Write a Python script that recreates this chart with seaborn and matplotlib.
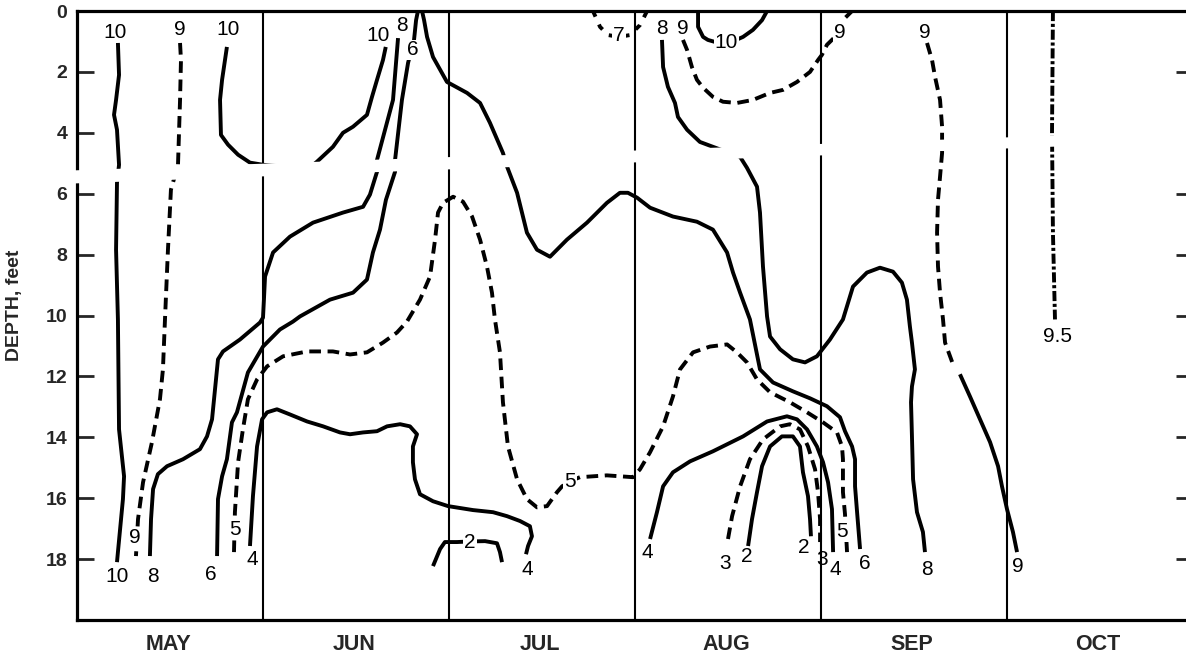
import matplotlib
matplotlib.use("Agg")
import matplotlib.pyplot as plt
import seaborn as sns
import pandas as pd

# Horizontal axis: months after 1 May (0 = May 1, 1 = Jun 1, ...); vertical: depth in feet.
months = ["MAY", "JUN", "JUL", "AUG", "SEP", "OCT"]
depth_ticks = [0, 2, 4, 6, 8, 10, 12, 14, 16, 18]

# ---- isotherm traces (temperature, deg C) ----
t10_may_x = [0.220, 0.226, 0.210, 0.199, 0.215, 0.226, 0.215, 0.210, 0.220, 0.226, 0.253, 0.247, 0.220, 0.215]
t10_may_y = [1.05, 2.10, 2.92, 3.41, 3.90, 5.05, 5.64, 7.84, 10.13, 13.74, 15.28, 16.03, 17.77, 18.10]

t9_may_x = [0.554, 0.559, 0.554, 0.543, 0.505, 0.489, 0.473, 0.462, 0.446, 0.403, 0.355, 0.328, 0.317]
t9_may_y = [1.05, 1.61, 2.92, 5.05, 5.87, 7.84, 10.13, 11.77, 12.75, 14.16, 15.48, 16.69, 17.90]

t10_jun_x = [0.806, 0.780, 0.769, 0.774, 0.812, 0.866, 0.930, 1.000, 1.091, 1.150, 1.240, 1.290,
             1.376, 1.430, 1.484, 1.559, 1.586, 1.613, 1.645, 1.660]
t10_jun_y = [1.18, 2.26, 2.92, 4.07, 4.39, 4.72, 4.98, 5.05, 5.10, 5.25, 5.20, 4.95,
             4.46, 4.00, 3.80, 3.41, 2.82, 2.26, 1.61, 1.18]

t8_jun_x = [0.392, 0.398, 0.409, 0.435, 0.484, 0.570, 0.661, 0.699, 0.726, 0.758, 0.785, 0.876,
            0.984, 1.000, 1.005, 1.011, 1.054, 1.145, 1.269, 1.430, 1.538, 1.575, 1.613, 1.613,
            1.699, 1.726]
t8_jun_y = [17.90, 16.69, 15.70, 15.21, 14.95, 14.72, 14.39, 13.97, 13.41, 11.44, 11.18, 10.79,
            10.23, 10.07, 9.48, 8.72, 7.93, 7.41, 6.95, 6.62, 6.43, 6.03, 5.28, 4.89,
            2.92, 0.89]

t6_x = [0.753, 0.758, 0.780, 0.806, 0.833, 0.860, 0.919, 1.000, 1.091, 1.161, 1.199, 1.360,
        1.484, 1.559, 1.591, 1.629, 1.661, 1.710, 1.710, 1.747, 1.780, 1.812, 1.823, 1.833,
        1.855, 1.866, 1.882, 1.914, 1.989, 2.097, 2.167, 2.220, 2.290, 2.312, 2.366, 2.419,
        2.473, 2.543, 2.634, 2.742, 2.849, 2.919, 2.962, 3.011, 3.081, 3.204, 3.333, 3.419,
        3.495, 3.527, 3.565, 3.618, 3.645, 3.672, 3.742, 3.849, 3.941, 4.032, 4.102, 4.129,
        4.167, 4.183, 4.183, 4.194, 4.210]
t6_y = [17.90, 16.03, 15.28, 14.72, 13.51, 13.18, 11.87, 11.02, 10.46, 10.20, 10.03, 9.48,
        9.25, 8.82, 7.93, 7.18, 6.20, 5.28, 4.89, 2.92, 1.70, 0.95, 0.30, 0.00,
        0.00, 0.30, 0.85, 1.51, 2.33, 2.69, 3.02, 3.67, 4.66, 5.11, 5.97, 7.28,
        7.84, 8.07, 7.51, 6.95, 6.30, 5.97, 5.97, 6.13, 6.46, 6.75, 6.92, 7.18,
        7.93, 8.59, 9.25, 10.13, 10.95, 11.77, 12.20, 12.49, 12.72, 12.98, 13.34, 13.80,
        14.30, 14.72, 15.61, 16.46, 17.67]

t5_x = [0.844, 0.849, 0.866, 0.892, 0.919, 0.968, 1.022, 1.108, 1.237, 1.376, 1.468, 1.559,
        1.645, 1.720, 1.774, 1.844, 1.898, 1.925, 1.941, 1.968, 2.022, 2.075, 2.124, 2.167,
        2.204, 2.231, 2.247, 2.274, 2.290, 2.317, 2.366, 2.419, 2.473, 2.527, 2.581, 2.608,
        2.651, 2.704, 2.849, 2.989, 3.027, 3.081, 3.151, 3.204, 3.242, 3.312, 3.403, 3.495,
        3.548, 3.602, 3.656, 3.726, 3.833, 3.925, 4.011, 4.086, 4.113, 4.118, 4.118, 4.129,
        4.140]
t5_y = [17.77, 16.46, 14.82, 13.74, 12.75, 12.10, 11.67, 11.34, 11.18, 11.18, 11.28, 11.21,
        10.89, 10.56, 10.20, 9.48, 8.72, 7.51, 6.62, 6.30, 6.10, 6.26, 6.75, 7.51,
        8.39, 9.25, 10.13, 11.21, 12.85, 14.30, 15.38, 16.03, 16.30, 16.26, 15.80, 15.61,
        15.44, 15.31, 15.25, 15.31, 15.05, 14.49, 13.64, 12.66, 11.77, 11.21, 11.02, 10.95,
        11.21, 11.54, 12.10, 12.52, 12.85, 13.18, 13.51, 13.84, 14.30, 14.72, 15.80, 16.52,
        17.77]

t4_jun_x = [0.930, 0.946, 0.968, 0.995, 1.022, 1.075, 1.145, 1.237, 1.323, 1.414, 1.468, 1.538,
            1.613, 1.667, 1.737, 1.790, 1.828, 1.806, 1.806, 1.817, 1.844, 1.914, 1.995, 2.129,
            2.237, 2.312, 2.382, 2.435, 2.446, 2.425, 2.414]
t4_jun_y = [17.57, 15.93, 14.30, 13.41, 13.18, 13.08, 13.25, 13.48, 13.64, 13.84, 13.90, 13.84,
            13.80, 13.64, 13.57, 13.64, 13.90, 14.30, 14.82, 15.38, 15.87, 16.10, 16.26, 16.39,
            16.46, 16.59, 16.75, 16.92, 17.25, 17.57, 17.84]

t2_jul_x = [1.914, 1.952, 1.978, 2.043, 2.113, 2.194, 2.258, 2.274, 2.285]
t2_jul_y = [18.23, 17.67, 17.44, 17.44, 17.42, 17.41, 17.48, 17.77, 18.10]

t4_aug_x = [3.081, 3.118, 3.151, 3.204, 3.296, 3.419, 3.581, 3.710, 3.817, 3.871, 3.925, 3.978,
            4.011, 4.038, 4.059, 4.065]
t4_aug_y = [17.34, 16.46, 15.61, 15.15, 14.79, 14.46, 13.97, 13.48, 13.31, 13.41, 13.74, 14.30,
            14.82, 15.48, 16.36, 17.77]

t3_aug_x = [3.500, 3.522, 3.565, 3.618, 3.688, 3.780, 3.833, 3.887, 3.930, 3.968, 3.984, 3.995, 3.995]
t3_aug_y = [17.34, 16.59, 15.61, 14.72, 14.07, 13.64, 13.57, 13.74, 14.30, 15.05, 15.80, 16.69, 17.44]

t2_aug_x = [3.608, 3.629, 3.656, 3.683, 3.726, 3.790, 3.849, 3.887, 3.903, 3.930, 3.941, 3.946]
t2_aug_y = [17.57, 16.69, 15.80, 14.95, 14.30, 13.97, 13.97, 14.30, 15.15, 15.93, 16.69, 17.25]

t7_aug_x = [2.774, 2.812, 2.855, 2.914, 2.973, 3.027, 3.065]
t7_aug_y = [0.00, 0.52, 0.79, 0.85, 0.79, 0.46, 0.00]

t8_aug_x = [3.145, 3.151, 3.177, 3.215, 3.231, 3.280, 3.349, 3.419, 3.565, 3.602, 3.656, 3.672,
            3.688, 3.710, 3.726, 3.780, 3.849, 3.914, 3.978, 4.048, 4.118, 4.172, 4.247, 4.317,
            4.387, 4.435, 4.462, 4.478, 4.489, 4.505, 4.489, 4.484, 4.489, 4.495, 4.516, 4.548,
            4.559]
t8_aug_y = [0.95, 1.84, 2.49, 3.02, 3.48, 3.90, 4.30, 4.46, 4.79, 5.15, 5.77, 6.62,
            8.39, 10.03, 10.69, 11.11, 11.44, 11.54, 11.34, 10.79, 10.13, 9.05, 8.59, 8.43,
            8.56, 8.92, 9.48, 10.36, 10.89, 11.77, 12.33, 12.85, 13.97, 15.38, 16.46, 17.11,
            17.77]

t9_aug_x = [3.258, 3.280, 3.306, 3.333, 3.366, 3.419, 3.473, 3.548, 3.634, 3.726, 3.796, 3.871,
            3.941, 3.984, 4.005, 4.032, 4.102, 4.129, 4.167]
t9_aug_y = [0.95, 1.28, 1.84, 2.26, 2.52, 2.82, 2.98, 3.02, 2.92, 2.69, 2.59, 2.33,
            2.00, 1.61, 1.44, 1.11, 0.69, 0.23, 0.00]

t10_aug_x = [3.339, 3.339, 3.366, 3.392, 3.484, 3.581, 3.634, 3.683, 3.710]
t10_aug_y = [0.00, 0.52, 0.85, 0.95, 1.11, 0.85, 0.62, 0.30, 0.00]

t9_sep_upper_x = [4.570, 4.597, 4.613, 4.640, 4.651, 4.651, 4.640, 4.629, 4.624, 4.629, 4.640,
                  4.656, 4.667, 4.710]
t9_sep_upper_y = [1.05, 1.61, 2.16, 2.92, 3.80, 4.66, 5.44, 6.20, 7.28, 8.39, 9.25,
                  10.13, 10.89, 11.61]
t9_sep_lower_x = [4.747, 4.801, 4.855, 4.909, 4.952, 4.973, 5.000, 5.032, 5.054]
t9_sep_lower_y = [11.93, 12.66, 13.41, 14.16, 14.95, 15.61, 16.36, 17.11, 17.77]

t95_oct_x = [5.247, 5.242, 5.247, 5.258]
t95_oct_y = [0.00, 4.00, 7.28, 10.13]

# isotherm value labels: text, month position, depth, sits on the line
label_text = ["10", "10", "9", "9", "10", "10", "8", "8", "6", "6", "5", "4",
              "2", "4", "7", "5", "8", "9", "10", "9",
              "4", "3", "2", "2", "3", "4", "5", "6", "9", "8", "9", "9.5"]
label_x = [0.204, 0.215, 0.554, 0.312, 0.812, 1.618, 0.409, 1.747, 0.720, 1.806, 0.849, 0.941,
           2.113, 2.419, 2.914, 2.651, 3.145, 3.258, 3.490, 4.102,
           3.065, 3.484, 3.602, 3.909, 4.005, 4.075, 4.113, 4.237, 4.559, 4.570, 5.059, 5.269]
label_y = [0.69, 18.56, 0.62, 17.28, 0.62, 0.79, 18.56, 0.46, 18.50, 1.28, 17.02, 18.00,
           17.44, 18.33, 0.79, 15.44, 0.56, 0.56, 1.05, 0.69,
           17.77, 18.16, 17.90, 17.61, 18.00, 18.33, 17.11, 18.16, 0.69, 18.33, 18.23, 10.69]
label_inline = [False, False, False, True, False, False, False, False, False, True, True, False,
                True, False, True, True, False, False, True, True,
                False, False, False, False, False, False, True, False, False, False, False, False]

# ---- styling ----
INK = "black"
LW = 2.8
SOLID = "-"
DASHED = (0, (3.0, 1.7))
SPARSE = (0, (1.6, 2.2))
DASHDOT = (0, (2.6, 0.7, 0.8, 0.7))

traces = [
    (t10_may_x, t10_may_y, SOLID),
    (t9_may_x, t9_may_y, DASHED),
    (t10_jun_x, t10_jun_y, SOLID),
    (t8_jun_x, t8_jun_y, SOLID),
    (t6_x, t6_y, SOLID),
    (t5_x, t5_y, DASHED),
    (t4_jun_x, t4_jun_y, SOLID),
    (t2_jul_x, t2_jul_y, SOLID),
    (t4_aug_x, t4_aug_y, SOLID),
    (t3_aug_x, t3_aug_y, DASHED),
    (t2_aug_x, t2_aug_y, SOLID),
    (t7_aug_x, t7_aug_y, SPARSE),
    (t8_aug_x, t8_aug_y, SOLID),
    (t9_aug_x, t9_aug_y, DASHED),
    (t10_aug_x, t10_aug_y, SOLID),
    (t9_sep_upper_x, t9_sep_upper_y, DASHED),
    (t9_sep_lower_x, t9_sep_lower_y, SOLID),
    (t95_oct_x, t95_oct_y, DASHDOT),
]

sns.set_style("white")
plt.rcParams["font.family"] = ["Liberation Sans", "DejaVu Sans"]

W, H = 1186, 659
fig = plt.figure(figsize=(W / 100, H / 100), dpi=100)
ax = fig.add_axes([77 / W, 1 - 620 / H, (1193 - 77) / W, (620 - 11) / H])

for xs, ys, ls in traces:
    df = pd.DataFrame({"month": xs, "depth": ys})
    sns.lineplot(data=df, x="month", y="depth", sort=False, estimator=None,
                 color=INK, linewidth=LW, linestyle=ls, ax=ax, zorder=3,
                 solid_capstyle="butt", dash_capstyle="butt")

# month boundaries
for b in range(1, len(months)):
    ax.axvline(b, color=INK, linewidth=1.5, zorder=2)

# fold across the sheet that breaks every line
fold_x = [-0.03, 6.03]
fold_top = [5.22, 3.91]
fold_bot = [5.65, 4.26]
ax.fill_between(fold_x, fold_top, fold_bot, color="white", linewidth=0,
                zorder=4, clip_on=False)

for t, x, y, inl in zip(label_text, label_x, label_y, label_inline):
    kw = dict(ha="center", va="center", fontsize=15, color=INK, zorder=5)
    if inl:
        kw["bbox"] = dict(facecolor="white", edgecolor="none", pad=0.6)
    ax.text(x, y, t, **kw)

ax.set_xlim(0, len(months))
ax.set_ylim(20, 0)
ax.set_yticks(depth_ticks)
ax.set_yticklabels([str(d) for d in depth_ticks], fontsize=14, fontweight="bold")
ax.set_xticks([i + 0.49 for i in range(len(months))])
ax.set_xticklabels(months, fontsize=15.5, fontweight="bold")
ax.tick_params(axis="x", length=0, pad=10)
ax.tick_params(axis="y", direction="in", length=12.5, width=2.0, left=True, right=True,
               labelright=False, pad=7)
# the fold also hides the right-hand mark at 4 ft
for d, tk in zip(depth_ticks, ax.yaxis.get_major_ticks()):
    if d == 4:
        tk.tick2line.set_visible(False)
ax.set_xlabel("")
ax.set_ylabel("")
for s in ax.spines.values():
    s.set_visible(True)
    s.set_color(INK)
    s.set_linewidth(2.3)

fig.text(15 / W, 1 - 305 / H, "DEPTH, feet", rotation=90, ha="center", va="center",
         fontsize=14, fontweight="bold")

fig.savefig("out.png", dpi=100)
